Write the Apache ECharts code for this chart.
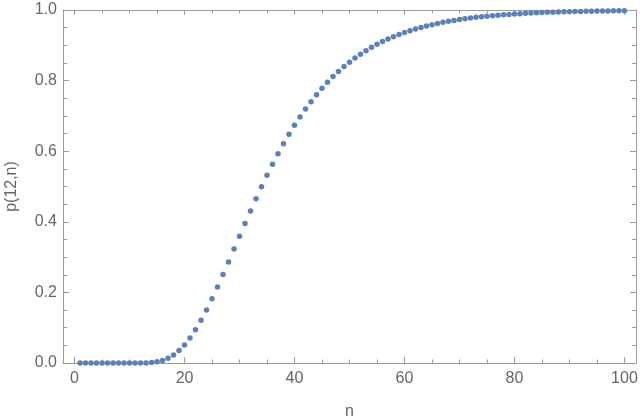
<!DOCTYPE html>
<html>
<head>
<meta charset="utf-8">
<script src="https://cdn.jsdelivr.net/npm/echarts@6/dist/echarts.min.js"></script>
<style>
html,body{margin:0;padding:0;background:#fff;}
#chart{width:640px;height:418px;}
</style>
</head>
<body>
<div id="chart"></div>
<script>
var nValues = [1,2,3,4,5,6,7,8,9,10,11,12,13,14,15,16,17,18,19,20,
21,22,23,24,25,26,27,28,29,30,31,32,33,34,35,36,37,38,39,40,
41,42,43,44,45,46,47,48,49,50,51,52,53,54,55,56,57,58,59,60,
61,62,63,64,65,66,67,68,69,70,71,72,73,74,75,76,77,78,79,80,
81,82,83,84,85,86,87,88,89,90,91,92,93,94,95,96,97,98,99,100];
var pValues = [0,0,0,0,0,0,0,0,0,0,0,0.00005,0.00035,0.00126,0.00331,0.00714,0.0135,0.0227,0.0353,0.0513,
0.0711,0.0944,0.1209,0.1502,0.1819,0.2155,0.2504,0.2863,0.3227,0.3591,
0.3953,0.4309,0.4656,0.4993,0.5318,0.5630,0.5928,0.6211,0.6479,0.6732,
0.6971,0.7195,0.7404,0.7601,0.7784,0.7954,0.8113,0.8260,0.8397,0.8523,
0.8641,0.8749,0.8849,0.8942,0.9027,0.9106,0.9178,0.9245,0.9307,0.9363,
0.9415,0.9463,0.9507,0.9548,0.9585,0.9619,0.9651,0.9679,0.9706,0.9730,
0.9753,0.9773,0.9792,0.9809,0.9825,0.9839,0.9853,0.9865,0.9876,0.9887,
0.9896,0.9905,0.9913,0.9920,0.9926,0.9933,0.9938,0.9943,0.9948,0.9952,
0.9956,0.9960,0.9963,0.9966,0.9969,0.9972,0.9974,0.9976,0.9978,0.9980];
var xMajorTicks = [0,20,40,60,80,100];
var xMinorTicks = [5,10,15,25,30,35,45,50,55,65,70,75,85,90,95];
var xTitle = 'n';
var yTitle = 'p(12,n)';

var axisColor = '#9a9a9a';
var textColor = '#666666';
var fontFam = '"Liberation Sans", Arial, sans-serif';

function xAxisDef(pos, major, showLabel, showLine) {
  return {
    type: 'value', position: pos, min: -2.1, max: 102.1,
    axisLine: {show: showLine, onZero: false, lineStyle: {color: axisColor, width: 1}},
    splitLine: {show: false},
    axisTick: {show: true, inside: true, length: major ? (pos === 'top' ? 5 : 6) : 3.5,
      customValues: major ? xMajorTicks : xMinorTicks,
      lineStyle: {color: axisColor, width: 1}},
    axisLabel: {show: showLabel, customValues: xMajorTicks, margin: 8,
      color: textColor, fontSize: 16, fontFamily: fontFam},
    name: (pos === 'bottom' && major) ? xTitle : '',
    nameLocation: 'middle', nameGap: 41,
    nameTextStyle: {color: textColor, fontSize: 16, fontFamily: fontFam}
  };
}
function yAxisDef(pos, showLabel) {
  return {
    type: 'value', position: pos, min: 0, max: 1, interval: 0.2,
    axisLine: {show: true, onZero: false, lineStyle: {color: axisColor, width: 1}},
    splitLine: {show: false},
    axisTick: {show: true, inside: true, length: 6, lineStyle: {color: axisColor, width: 1}},
    minorTick: {show: true, splitNumber: 4, length: 4, lineStyle: {color: axisColor, width: 1}},
    axisLabel: {show: showLabel, margin: 6, color: textColor, fontSize: 16, fontFamily: fontFam,
      formatter: function (v) { return v.toFixed(1); }},
    name: pos === 'left' ? yTitle : '',
    nameLocation: 'middle', nameGap: 43,
    nameTextStyle: {color: textColor, fontSize: 16, fontFamily: fontFam}
  };
}

var chart = echarts.init(document.getElementById('chart'), null, {renderer: 'canvas'});
var pts = nValues.map(function (n, i) { return [n, pValues[i]]; });
chart.setOption({
  animation: false,
  backgroundColor: '#ffffff',
  grid: {left: 63, right: 4, top: 10, bottom: 55, containLabel: false, outerBoundsMode: 'none'},
  xAxis: [
    xAxisDef('bottom', true, true, true),
    xAxisDef('bottom', false, false, false),
    xAxisDef('top', true, false, true),
    xAxisDef('top', false, false, false)
  ],
  yAxis: [
    yAxisDef('left', true),
    yAxisDef('right', false)
  ],
  series: [{
    type: 'scatter',
    xAxisIndex: 0, yAxisIndex: 0,
    data: pts,
    symbol: 'circle',
    symbolSize: 5.5,
    clip: false,
    itemStyle: {color: '#5E81B5', opacity: 1}
  }]
});
</script>
</body>
</html>
